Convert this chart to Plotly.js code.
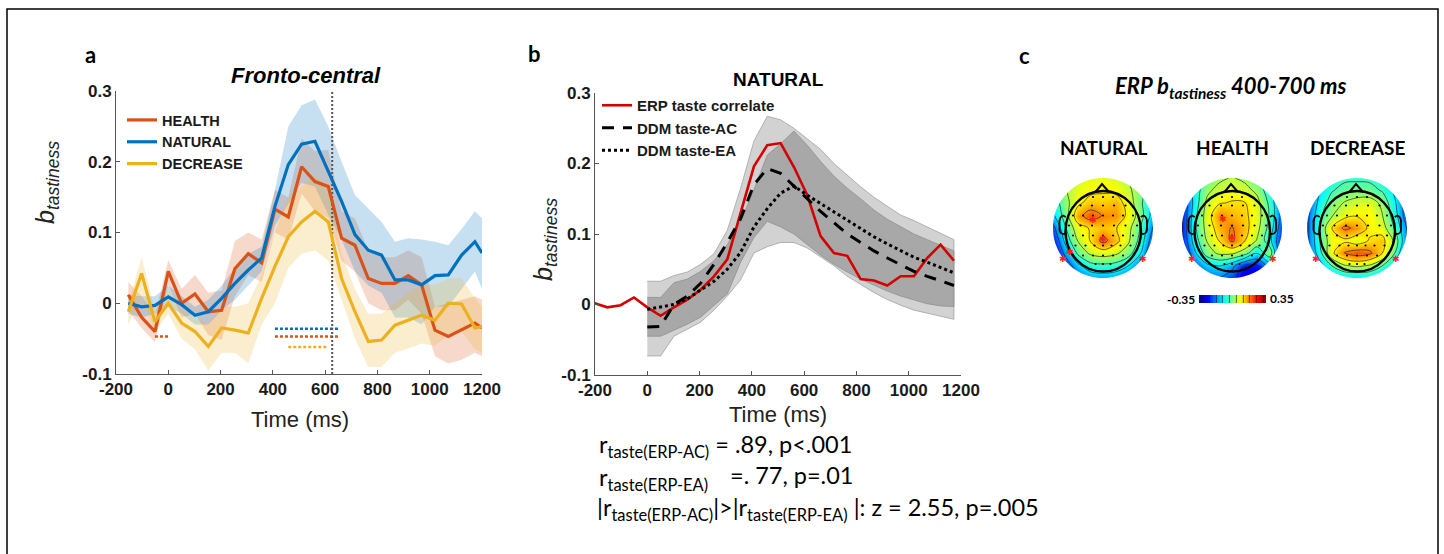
<!DOCTYPE html>
<html><head><meta charset="utf-8">
<script src="https://cdn.plot.ly/plotly-3.0.1.min.js"></script>
<style>html,body{margin:0;padding:0;background:#fff}#chart{width:1444px;height:554px}</style>
</head><body><div id="chart"></div>
<script>
// ---------------- Panel a data ----------------
const timeA = [-153,-102,-51,0,51,102,153,204,255,306,357,408,459,510,561,612,663,714,765,816,867,918,969,1020,1071,1122,1173,1200];
const health = [0.012,-0.020,-0.040,0.045,0.000,0.013,-0.012,-0.010,0.049,0.070,0.057,0.133,0.122,0.193,0.172,0.165,0.092,0.082,0.035,0.028,0.028,0.039,0.026,-0.038,-0.047,-0.038,-0.028,-0.035];
const healthHi = [0.030,0.010,-0.017,0.061,0.020,0.040,0.015,0.018,0.088,0.100,0.090,0.160,0.150,0.233,0.215,0.217,0.130,0.120,0.075,0.065,0.065,0.075,0.065,-0.005,0.000,0.005,0.010,0.005];
const healthLo = [-0.010,-0.035,-0.055,0.026,-0.020,-0.015,-0.045,-0.052,0.010,0.040,0.030,0.100,0.090,0.155,0.130,0.120,0.060,0.045,0.000,-0.010,-0.010,0.005,-0.015,-0.075,-0.085,-0.080,-0.070,-0.075];
const natural = [0.000,-0.005,-0.003,0.009,-0.002,-0.017,-0.012,0.007,0.028,0.047,0.064,0.137,0.196,0.225,0.229,0.186,0.144,0.097,0.075,0.068,0.033,0.033,0.026,0.039,0.040,0.068,0.087,0.071];
const naturalHi = [0.012,0.010,0.010,0.025,0.010,-0.005,0.005,0.025,0.050,0.070,0.080,0.160,0.250,0.280,0.288,0.250,0.200,0.153,0.134,0.115,0.087,0.092,0.090,0.087,0.082,0.105,0.130,0.120];
const naturalLo = [-0.015,-0.020,-0.015,-0.005,-0.015,-0.030,-0.030,-0.010,0.005,0.025,0.045,0.110,0.140,0.170,0.165,0.125,0.090,0.045,0.025,0.015,-0.020,-0.020,-0.030,-0.005,-0.005,0.020,0.045,0.020];
const decrease = [-0.012,0.042,-0.026,0.000,-0.028,-0.040,-0.061,-0.035,-0.038,-0.042,0.007,0.052,0.094,0.115,0.130,0.115,0.035,-0.012,-0.054,-0.052,-0.031,-0.024,-0.017,-0.024,0.000,-0.001,-0.035,-0.033];
const decreaseHi = [0.000,0.065,-0.010,0.020,-0.010,-0.020,-0.030,-0.005,-0.005,0.000,0.040,0.100,0.150,0.165,0.180,0.165,0.070,0.020,-0.015,-0.015,0.000,0.015,0.026,0.026,0.035,0.035,0.007,-0.005];
const decreaseLo = [-0.030,0.010,-0.040,-0.015,-0.050,-0.065,-0.095,-0.070,-0.070,-0.085,-0.030,0.000,0.050,0.070,0.075,0.060,0.005,-0.050,-0.090,-0.090,-0.070,-0.064,-0.057,-0.060,-0.045,-0.040,-0.065,-0.070];
// significance windows (ms) and their heights
const sigNaturalX = [408,657], sigNaturalY = -0.036;
const sigHealthX = [408,657], sigHealthY = -0.047;
const sigHealthEarlyX = [-51,0];
const sigDecreaseX = [459,606], sigDecreaseY = -0.062;
const markerTime = 627;

// ---------------- Panel b data ----------------
const timeB = [-204,-153,-102,-51,0,51,102,153,204,255,306,357,408,459,510,561,612,663,714,765,816,867,918,969,1020,1071,1122,1173];
const erp = [0.002,-0.004,-0.001,0.010,-0.004,-0.016,-0.004,0.007,0.021,0.040,0.064,0.130,0.196,0.226,0.229,0.195,0.155,0.097,0.073,0.069,0.036,0.034,0.027,0.040,0.040,0.066,0.085,0.062];
const timeModel = [0,51,102,153,204,255,306,357,408,459,510,561,612,663,714,765,816,867,918,969,1020,1071,1122,1173];
const ddmAC = [-0.032,-0.031,0.000,0.012,0.030,0.057,0.088,0.122,0.170,0.193,0.186,0.168,0.149,0.132,0.116,0.100,0.088,0.076,0.066,0.056,0.047,0.040,0.034,0.027];
const ddmEA = [-0.007,-0.004,0.000,0.008,0.020,0.033,0.050,0.074,0.110,0.136,0.158,0.168,0.155,0.143,0.131,0.120,0.108,0.096,0.086,0.077,0.067,0.060,0.052,0.045];
const ciOuterHi = [0.033,0.033,0.041,0.046,0.057,0.072,0.105,0.165,0.232,0.267,0.262,0.250,0.235,0.220,0.200,0.183,0.167,0.152,0.139,0.127,0.119,0.110,0.100,0.092];
const ciOuterLo = [-0.073,-0.073,-0.045,-0.035,-0.025,-0.008,0.012,0.035,0.073,0.082,0.088,0.088,0.080,0.068,0.055,0.040,0.028,0.017,0.007,-0.001,-0.008,-0.013,-0.017,-0.021];
const ciInnerHi = [0.010,0.010,0.031,0.036,0.047,0.062,0.085,0.117,0.163,0.212,0.228,0.246,0.226,0.203,0.182,0.165,0.150,0.134,0.121,0.110,0.100,0.092,0.084,0.076];
const ciInnerLo = [-0.045,-0.045,-0.037,-0.028,-0.018,-0.002,0.015,0.060,0.095,0.118,0.110,0.100,0.085,0.070,0.057,0.046,0.036,0.027,0.019,0.012,0.006,0.001,-0.002,-0.003];

// ---------------- Panel c data (scalp maps, 9x9 grid, rows top->bottom) ----------------
const gridPos = [-1,-0.75,-0.5,-0.25,0,0.25,0.5,0.75,1];
const gridRows = [1,0.75,0.5,0.25,0,-0.25,-0.5,-0.75,-1];
const topoNatural = [
 [-0.02,0.03,0.06,0.07,0.07,0.06,0.03,0.00,-0.08],
 [-0.03,0.03,0.07,0.09,0.10,0.09,0.05,0.00,-0.10],
 [-0.08,0.01,0.09,0.13,0.12,0.14,0.08,-0.02,-0.12],
 [-0.12,0.00,0.15,0.21,0.17,0.16,0.09,0.00,-0.14],
 [-0.20,-0.04,0.08,0.11,0.13,0.11,0.06,-0.04,-0.18],
 [-0.26,-0.08,0.04,0.11,0.20,0.13,0.05,-0.06,-0.22],
 [-0.30,-0.15,-0.02,0.05,0.07,0.05,0.00,-0.10,-0.27],
 [-0.33,-0.23,-0.12,-0.06,-0.05,-0.06,-0.10,-0.20,-0.31],
 [-0.34,-0.30,-0.20,-0.15,-0.14,-0.15,-0.20,-0.30,-0.34]];
const topoHealth = [
 [-0.20,-0.10,-0.02,0.02,0.04,0.02,-0.02,-0.10,-0.20],
 [-0.22,-0.08,0.02,0.06,0.08,0.06,0.02,-0.08,-0.22],
 [-0.25,-0.08,0.05,0.10,0.11,0.11,0.06,-0.05,-0.20],
 [-0.25,-0.06,0.07,0.17,0.14,0.12,0.07,-0.04,-0.20],
 [-0.25,-0.05,0.06,0.14,0.18,0.13,0.06,-0.06,-0.22],
 [-0.25,-0.07,0.04,0.11,0.19,0.11,0.03,-0.08,-0.25],
 [-0.28,-0.12,0.00,0.05,0.05,0.00,-0.10,0.02,-0.28],
 [-0.30,-0.20,-0.12,-0.10,-0.15,-0.25,-0.25,-0.15,-0.30],
 [-0.32,-0.28,-0.20,-0.18,-0.22,-0.30,-0.33,-0.30,-0.33]];
const topoDecrease = [
 [-0.25,-0.15,-0.08,-0.05,-0.05,-0.05,-0.08,-0.15,-0.25],
 [-0.25,-0.11,-0.04,-0.01,0.00,-0.01,-0.04,-0.12,-0.25],
 [-0.22,-0.08,0.00,0.04,0.06,0.07,0.02,-0.09,-0.22],
 [-0.20,-0.05,0.03,0.08,0.10,0.09,0.04,-0.07,-0.22],
 [-0.20,-0.03,0.11,0.19,0.16,0.09,0.07,-0.04,-0.18],
 [-0.20,-0.04,0.08,0.09,0.06,0.11,0.13,0.02,-0.18],
 [-0.22,-0.06,0.09,0.18,0.21,0.19,0.11,-0.03,-0.22],
 [-0.28,-0.14,-0.03,0.03,0.05,0.03,-0.03,-0.14,-0.30],
 [-0.32,-0.25,-0.15,-0.10,-0.10,-0.10,-0.15,-0.25,-0.32]];
const elecX = [-0.2,0,0.2, -0.45,-0.22,0,0.22,0.45, -0.6,-0.4,-0.2,0,0.2,0.4,0.6, -0.68,-0.45,-0.22,0,0.22,0.45,0.68, -0.6,-0.4,-0.2,0,0.2,0.4,0.6, -0.55,-0.35,-0.17,0,0.17,0.35,0.55, -0.4,-0.2,0,0.2,0.4, -0.15,0,0.15];
const elecY = [0.62,0.62,0.62, 0.45,0.45,0.45,0.45,0.45, 0.25,0.25,0.25,0.25,0.25,0.25,0.25, 0.05,0.05,0.05,0.05,0.05,0.05,0.05, -0.15,-0.15,-0.15,-0.15,-0.15,-0.15,-0.15, -0.35,-0.35,-0.35,-0.35,-0.35,-0.35,-0.35, -0.55,-0.55,-0.55,-0.55,-0.55, -0.72,-0.72,-0.72];
const starsNaturalX = [-0.2,0.0,-0.8,0.79,-0.67], starsNaturalY = [0.17,-0.21,-0.61,-0.61,-0.48];
const starsHealthX = [-0.19,0.0,-0.81,0.81], starsHealthY = [0.18,-0.19,-0.61,-0.61];
const starsDecreaseX = [-0.83,0.78], starsDecreaseY = [-0.61,-0.61];
const topoTitles = ['NATURAL','HEALTH','DECREASE'];
const colorRange = [-0.35, 0.35];

// ---------------- helpers ----------------
const W = 1444, H = 554;
const X = p => p / W, Y = p => 1 - p / H;
const F = '"Liberation Sans", Arial, sans-serif';
const FC = 'Lato, "Open Sans", sans-serif';
const INK = '#1a1a1a';
const rev = a => a.slice().reverse();

const traces = [];
function band(x, hi, lo, fill, xa, ya, line) {
  traces.push({x: x.concat(rev(x)), y: hi.concat(rev(lo)), xaxis: xa, yaxis: ya, mode: 'lines',
    fill: 'toself', fillcolor: fill, line: line || {width: 0}, hoverinfo: 'skip', showlegend: false});
}
// Panel a
band(timeA, healthHi, healthLo, 'rgba(217,83,25,0.22)', 'x', 'y');
band(timeA, naturalHi, naturalLo, 'rgba(0,114,189,0.22)', 'x', 'y');
band(timeA, decreaseHi, decreaseLo, 'rgba(237,177,32,0.22)', 'x', 'y');
const sig = (xs, yv, c) => traces.push({x: xs, y: [yv, yv], xaxis: 'x', yaxis: 'y', mode: 'lines',
  line: {color: c, width: 2.5, dash: '3px,2px'}, showlegend: false, hoverinfo: 'skip'});
sig(sigNaturalX, sigNaturalY, '#0072BD');
sig(sigHealthX, sigHealthY, '#D95319');
sig(sigHealthEarlyX, sigHealthY, '#D95319');
sig(sigDecreaseX, sigDecreaseY, '#EDB120');
traces.push({x: [markerTime, markerTime], y: [-0.1, 0.3], xaxis: 'x', yaxis: 'y', mode: 'lines',
  line: {color: '#555', width: 2, dash: '2px,2px'}, showlegend: false, hoverinfo: 'skip'});
traces.push({x: timeA, y: health, name: 'HEALTH', xaxis: 'x', yaxis: 'y', mode: 'lines', line: {color: '#D95319', width: 3.2}, legend: 'legend'});
traces.push({x: timeA, y: natural, name: 'NATURAL', xaxis: 'x', yaxis: 'y', mode: 'lines', line: {color: '#0072BD', width: 3.2}, legend: 'legend'});
traces.push({x: timeA, y: decrease, name: 'DECREASE', xaxis: 'x', yaxis: 'y', mode: 'lines', line: {color: '#EDB120', width: 3.2}, legend: 'legend'});
// Panel b
band(timeModel, ciOuterHi, ciOuterLo, '#D2D2D2', 'x2', 'y2', {color: '#9a9a9a', width: 0.7});
band(timeModel, ciInnerHi, ciInnerLo, '#A8A8A8', 'x2', 'y2', {color: '#8a8a8a', width: 0.7});
traces.push({x: timeB, y: erp, name: 'ERP taste correlate', xaxis: 'x2', yaxis: 'y2', mode: 'lines', line: {color: '#D40000', width: 2.6}, legend: 'legend2'});
traces.push({x: timeModel, y: ddmAC, name: 'DDM taste-AC', xaxis: 'x2', yaxis: 'y2', mode: 'lines', line: {color: '#000', width: 3, dash: '12px,9px'}, legend: 'legend2'});
traces.push({x: timeModel, y: ddmEA, name: 'DDM taste-EA', xaxis: 'x2', yaxis: 'y2', mode: 'lines', line: {color: '#000', width: 3, dash: '3px,3px'}, legend: 'legend2'});
// Panel c
const jet = [[0,'#000090'],[0.125,'#0000FF'],[0.375,'#00FFFF'],[0.625,'#FFFF00'],[0.875,'#FF0000'],[1,'#800000']];
const topoData = [topoNatural, topoHealth, topoDecrease];
const starSets = [[starsNaturalX, starsNaturalY],[starsHealthX, starsHealthY],[starsDecreaseX, starsDecreaseY]];
topoData.forEach((z, i) => {
  const n = i + 3;
  traces.push({type: 'contour', x: gridPos, y: gridRows, z: z, xaxis: 'x' + n, yaxis: 'y' + n,
    zmin: colorRange[0], zmax: colorRange[1], colorscale: jet,
    contours: {coloring: 'heatmap', start: -0.315, end: 0.315, size: 0.07, showlines: true},
    line: {color: 'rgba(20,20,20,0.9)', width: 0.7, smoothing: 1},
    showscale: i === 1, hoverinfo: 'skip',
    colorbar: {orientation: 'h', x: X(1232), xanchor: 'center', y: Y(299), yanchor: 'middle',
      len: 67, lenmode: 'pixels', thickness: 8, thicknessmode: 'pixels', showticklabels: false,
      ticks: '', outlinewidth: 0, xpad: 0, ypad: 0}});
  traces.push({x: elecX, y: elecY, xaxis: 'x' + n, yaxis: 'y' + n, mode: 'markers',
    marker: {color: '#000', size: 2.2}, showlegend: false, hoverinfo: 'skip'});
});

// ---------------- layout ----------------
const tickFont = {family: F, size: 17, weight: 'bold', color: INK};
const axBase = {showgrid: false, zeroline: false, showline: true, linecolor: '#555', linewidth: 1,
  ticks: 'inside', ticklen: 4, tickcolor: '#555', tickfont: tickFont, automargin: false, fixedrange: true};
const xTicks = [-200,0,200,400,600,800,1000,1200];
const xTickText = ['-200','0','200','400','600','800','1000','1200'];
const yTicks = [-0.1,0,0.1,0.2,0.3];
const yTickText = ['-0.1','0','0.1','0.2','0.3'];
const layout = {
  width: W, height: H, margin: {l: 0, r: 0, t: 0, b: 0}, paper_bgcolor: '#fff', plot_bgcolor: 'rgba(0,0,0,0)',
  showlegend: true,
  xaxis: Object.assign({}, axBase, {domain: [X(116), X(482)], range: [-200, 1200], tickvals: xTicks, ticktext: xTickText, anchor: 'y'}),
  yaxis: Object.assign({}, axBase, {domain: [Y(374), Y(91)], range: [-0.1, 0.3], tickvals: yTicks, ticktext: yTickText, anchor: 'x'}),
  xaxis2: Object.assign({}, axBase, {domain: [X(595), X(961)], range: [-200, 1200], tickvals: xTicks, ticktext: xTickText, anchor: 'y2'}),
  yaxis2: Object.assign({}, axBase, {domain: [Y(375), Y(93)], range: [-0.1, 0.3], tickvals: yTicks, ticktext: yTickText, anchor: 'x2'}),
  legend: {x: X(122), y: Y(104), xanchor: 'left', yanchor: 'top', bgcolor: 'rgba(0,0,0,0)',
    font: {family: F, size: 14.5, weight: 'bold', color: INK}, tracegroupgap: 0},
  legend2: {x: X(597), y: Y(89), xanchor: 'left', yanchor: 'top', bgcolor: 'rgba(0,0,0,0)',
    font: {family: F, size: 15, weight: 'bold', color: INK}, tracegroupgap: 0},
  annotations: [], shapes: []
};
const topoCenters = [1103, 1232, 1357];
topoCenters.forEach((cx, i) => {
  const n = i + 3;
  const hid = {visible: false, range: [-1, 1], fixedrange: true, showgrid: false, zeroline: false};
  layout['xaxis' + n] = Object.assign({}, hid, {domain: [X(cx - 50), X(cx + 50)], anchor: 'y' + n});
  layout['yaxis' + n] = Object.assign({}, hid, {domain: [Y(278), Y(178)], anchor: 'x' + n});
  const xr = 'x' + n, yr = 'y' + n;
  layout.shapes.push({type: 'path', xref: xr, yref: yr, layer: 'above', fillrule: 'evenodd', fillcolor: '#fff', line: {width: 0},
    path: 'M-1.3,-1.3L1.3,-1.3L1.3,1.3L-1.3,1.3Z M1,0C1,0.5523 0.5523,1 0,1C-0.5523,1 -1,0.5523 -1,0C-1,-0.5523 -0.5523,-1 0,-1C0.5523,-1 1,-0.5523 1,0Z'});
  layout.shapes.push({type: 'circle', xref: xr, yref: yr, layer: 'above', x0: -0.75, x1: 0.76, y0: -0.87, y1: 0.74, line: {color: '#000', width: 2.4}});
  layout.shapes.push({type: 'path', xref: xr, yref: yr, layer: 'above', line: {color: '#000', width: 2},
    path: 'M-0.15,0.72L-0.02,0.88L0.12,0.72'});
  layout.shapes.push({type: 'path', xref: xr, yref: yr, layer: 'above', line: {color: '#000', width: 1.8},
    path: 'M-0.745,0.22L-0.8,0.25Q-0.87,0.22 -0.87,0.12L-0.87,-0.04Q-0.86,-0.12 -0.78,-0.12L-0.75,-0.1'});
  layout.shapes.push({type: 'path', xref: xr, yref: yr, layer: 'above', line: {color: '#000', width: 1.8},
    path: 'M0.755,0.22L0.81,0.25Q0.88,0.22 0.88,0.12L0.88,-0.04Q0.87,-0.12 0.79,-0.12L0.76,-0.1'});
  const [sx, sy] = starSets[i];
  sx.forEach((v, k) => layout.annotations.push({xref: xr, yref: yr, x: v, y: sy[k], text: '✱', showarrow: false,
    font: {family: 'DejaVu Sans', size: 9, color: '#ff2020'}, xanchor: 'center', yanchor: 'middle'}));
  layout.annotations.push({xref: 'paper', yref: 'paper', x: X(cx), y: Y(147), text: topoTitles[i], showarrow: false,
    font: {family: FC, size: 19, weight: 'bold', color: '#000'}, xanchor: 'center', yanchor: 'middle'});
});
// frame
layout.shapes.push({type: 'rect', xref: 'paper', yref: 'paper', x0: X(7), x1: X(1438), y0: -0.1, y1: Y(9), line: {color: '#000', width: 1.5}, layer: 'above'});

const ann = (px, py, text, font, opts) => layout.annotations.push(Object.assign({xref: 'paper', yref: 'paper', x: X(px), y: Y(py),
  text: text, showarrow: false, font: font, xanchor: 'center', yanchor: 'middle'}, opts || {}));
// panel letters
ann(91, 54, 'a', {family: FC, size: 22, weight: 'bold', color: '#000'});
ann(534, 53, 'b', {family: FC, size: 22, weight: 'bold', color: '#000'});
ann(1024, 56, 'c', {family: FC, size: 22, weight: 'bold', color: '#000'});
// titles
ann(306, 75, 'Fronto-central', {family: F, size: 22, weight: 'bold', style: 'italic', color: '#000'});
ann(778, 79, 'NATURAL', {family: F, size: 19, weight: 'bold', color: '#000'});
ann(1230, 87, 'ERP b<sub>tastiness</sub> 400-700 ms', {family: FC, size: 22, weight: 'bold', style: 'italic', color: '#000'});
// axis titles
ann(300, 419, 'Time (ms)', {family: F, size: 22, color: '#222'});
ann(778, 414, 'Time (ms)', {family: F, size: 22, color: '#222'});
ann(47, 183, '<i>b<sub>tastiness</sub></i>', {family: F, size: 25, color: '#222'}, {textangle: -90});
ann(545, 240, '<i>b<sub>tastiness</sub></i>', {family: F, size: 25, color: '#222'}, {textangle: -90});
// colorbar labels
ann(1197, 299, '-0.35', {family: FC, size: 12, weight: 'bold', color: '#000'}, {xanchor: 'right'});
ann(1268, 298, '0.35', {family: FC, size: 12, weight: 'bold', color: '#000'}, {xanchor: 'left'});
// statistics
const sf = {family: FC, size: 23.5, color: '#000'};
ann(597, 446, 'r<sub>taste(ERP-AC)</sub> = .89, p&lt;.001', sf, {xanchor: 'left'});
ann(597, 479, 'r<sub>taste(ERP-EA)</sub>', sf, {xanchor: 'left'});
ann(728, 475, '=. 77, p=.01', sf, {xanchor: 'left'});
ann(595, 509, '|r<sub>taste(ERP-AC)</sub>|&gt;|r<sub>taste(ERP-EA)</sub> |: z = 2.55, p=.005', sf, {xanchor: 'left'});

Plotly.newPlot('chart', traces, layout, {displayModeBar: false, staticPlot: true});
</script></body></html>
